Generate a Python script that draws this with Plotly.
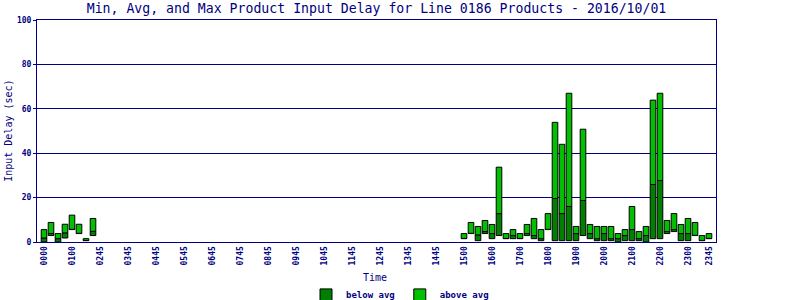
import plotly.graph_objects as go

# All 15-minute slots of the day (category axis)
all_slots = [f"{h:02d}{m:02d}" for h in range(24) for m in (0, 15, 30, 45)]

# Slots that have data
slots = ["0000", "0015", "0030", "0045", "0100", "0115", "0130", "0145",
         "1500", "1515", "1530", "1545", "1600", "1615", "1630", "1645",
         "1700", "1715", "1730", "1745", "1800", "1815", "1830", "1845",
         "1900", "1915", "1930", "1945", "2000", "2015", "2030", "2045",
         "2100", "2115", "2130", "2145", "2200", "2215", "2230", "2245",
         "2300", "2315", "2330", "2345"]

min_delay = [0.0, 2.9, 0.0, 1.8, 5.6, 3.8, 0.6, 2.9,
             1.5, 3.8, 0.6, 3.8, 1.5, 2.9, 1.5, 1.5,
             1.5, 2.9, 1.5, 0.6, 5.6, 0.6, 0.6, 0.6,
             0.6, 2.9, 1.5, 0.6, 0.6, 0.6, 0.0, 0.6,
             0.6, 0.6, 0.0, 1.5, 1.5, 3.8, 4.7, 0.6,
             0.6, 2.9, 0.6, 1.5]

avg_delay = [1.8, 3.8, 1.5, 4.1, 5.7, 3.9, 0.7, 4.8,
             1.6, 3.9, 3.2, 4.7, 3.8, 12.8, 1.6, 2.9,
             1.6, 3.8, 2.9, 1.5, 5.7, 19.6, 12.8, 16.0,
             3.8, 18.7, 3.8, 1.5, 3.8, 1.5, 1.5, 2.9,
             5.6, 1.5, 2.9, 25.9, 27.7, 4.7, 5.6, 3.8,
             3.8, 3.0, 0.7, 1.6]

max_delay = [5.6, 8.8, 3.8, 8.0, 12.1, 8.0, 1.5, 10.6,
             3.8, 8.8, 7.0, 9.7, 7.9, 33.7, 3.8, 5.6,
             3.8, 7.9, 10.6, 5.6, 12.8, 53.9, 44.0, 67.0,
             7.0, 50.8, 7.9, 7.0, 7.0, 7.0, 3.8, 5.6,
             16.0, 4.7, 7.0, 63.9, 67.0, 9.7, 12.8, 7.9,
             10.6, 8.8, 2.9, 3.8]

# Tick positions and the labels printed at them
tick_slots = ["0000", "0100", "0200", "0300", "0400", "0500", "0600", "0700",
              "0800", "0900", "1000", "1100", "1200", "1300", "1400", "1500",
              "1600", "1700", "1800", "1900", "2000", "2100", "2200", "2300", "2345"]
tick_labels = ["0000", "0100", "0245", "0345", "0445", "0545", "0645", "0745",
               "0845", "0945", "1045", "1145", "1245", "1345", "1445", "1500",
               "1600", "1700", "1800", "1900", "2000", "2100", "2200", "2300", "2345"]

NAVY = "#000080"
DARK = "#008000"
LIGHT = "#00c000"
FONT = "DejaVu Sans Mono"

below = [a - m for a, m in zip(avg_delay, min_delay)]
above = [x - a for x, a in zip(max_delay, avg_delay)]

fig = go.Figure()
fig.add_trace(go.Bar(
    x=slots, y=below, base=min_delay, name="below avg",
    marker=dict(color=DARK, line=dict(color="black", width=1)), width=0.8,
))
fig.add_trace(go.Bar(
    x=slots, y=above, base=avg_delay, name="above avg",
    marker=dict(color=LIGHT, line=dict(color="black", width=1)), width=0.8,
))

fig.update_layout(
    width=800, height=300,
    margin=dict(l=37, r=84, t=20, b=58, autoexpand=False),
    paper_bgcolor="white", plot_bgcolor="white",
    barmode="overlay",
    font=dict(family=FONT, color=NAVY),
    title=dict(
        text="Min, Avg, and Max Product Input Delay for Line 0186 Products - 2016/10/01",
        x=0.5, xref="paper", xanchor="center",
        y=0.973, yref="container", yanchor="middle",
        font=dict(family=FONT, size=13.2, color=NAVY),
    ),
    showlegend=True,
    legend=dict(
        orientation="h", x=0.5, xref="container", xanchor="center",
        y=0.017, yref="container", yanchor="middle",
        font=dict(family=FONT, size=9, color=NAVY, weight="bold"),
        itemwidth=30, tracegroupgap=0,
        bgcolor="rgba(0,0,0,0)",
    ),
    xaxis=dict(
        type="category", categoryorder="array", categoryarray=all_slots,
        range=[-1, 96], automargin=False,
        tickmode="array", tickvals=tick_slots, ticktext=tick_labels,
        tickangle=-90, tickfont=dict(family=FONT, size=8, color=NAVY, weight="bold"),
        ticks="", showgrid=False, zeroline=False,
        showline=True, linecolor=NAVY, linewidth=1, mirror=True,
    ),
    yaxis=dict(
        range=[0, 100], dtick=20, tick0=0, automargin=False,
        tickfont=dict(family=FONT, size=8, color=NAVY, weight="bold"),
        ticks="outside", ticklen=3, tickcolor=NAVY,
        showgrid=True, gridcolor=NAVY, gridwidth=1, zeroline=False,
        showline=True, linecolor=NAVY, linewidth=1, mirror=True,
    ),
    annotations=[
        dict(text="Input Delay (sec)", xref="paper", yref="paper",
             x=-0.043, y=0.5, textangle=-90, showarrow=False,
             xanchor="center", yanchor="middle",
             font=dict(family=FONT, size=10, color=NAVY)),
        dict(text="Time", xref="paper", yref="paper",
             x=0.498, y=-0.158, showarrow=False,
             xanchor="center", yanchor="middle",
             font=dict(family=FONT, size=10, color=NAVY)),
    ],
)

fig.write_html("out.html")
